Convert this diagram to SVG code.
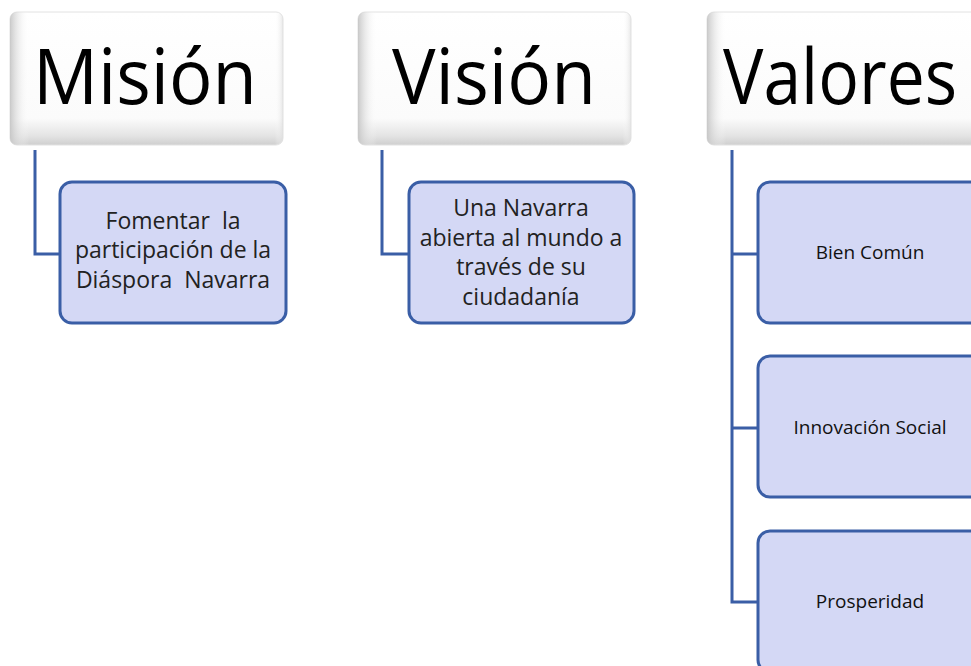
<svg xmlns="http://www.w3.org/2000/svg" width="971" height="666" viewBox="0 0 971 666">
<defs>
<linearGradient id="hv" x1="0" y1="0" x2="0" y2="1">
<stop offset="0" stop-color="#ffffff"/>
<stop offset="0.8" stop-color="#fbfbfb"/>
<stop offset="0.93" stop-color="#e4e4e4"/>
<stop offset="1" stop-color="#cfcfcf"/>
</linearGradient>
<linearGradient id="hh" x1="0" y1="0" x2="1" y2="0">
<stop offset="0" stop-color="#c4c4c4" stop-opacity="0.9"/>
<stop offset="0.07" stop-color="#ffffff" stop-opacity="0"/>
<stop offset="0.97" stop-color="#ffffff" stop-opacity="0"/>
<stop offset="1" stop-color="#dddddd" stop-opacity="0.7"/>
</linearGradient>
</defs>
<style>
.hdr{fill:url(#hv);stroke:#e2e2e2;stroke-width:1}
.hdr2{fill:url(#hh);stroke:none}
.ht{font-family:"Open Sans","Noto Sans",sans-serif;font-size:76px;fill:#000;text-anchor:middle}
.box{fill:#d4d8f5;stroke:#3a5ea6;stroke-width:3}
.bt{font-family:"Open Sans","Noto Sans",sans-serif;font-size:23px;fill:#222;text-anchor:middle;white-space:pre}
.st{font-family:"Open Sans","Noto Sans",sans-serif;font-size:19px;font-weight:500;fill:#111;text-anchor:middle}
.con{fill:none;stroke:#3a5ea6;stroke-width:3}
</style>
<g id="connectors">
<path class="con" d="M35 150 V254 H60"/>
<path class="con" d="M382 150 V254 H409"/>
<path class="con" d="M732 150 V602 H758 M732 254 H758 M732 428 H758"/>
</g>
<g id="mision">
<rect class="hdr" x="10" y="12" width="273" height="133" rx="7"/>
<rect class="hdr2" x="10" y="12" width="273" height="133" rx="7"/>
<text class="ht" x="145" y="104" textLength="224" lengthAdjust="spacingAndGlyphs">Misión</text>
</g>
<g id="vision">
<rect class="hdr" x="358" y="12" width="273" height="133" rx="7"/>
<rect class="hdr2" x="358" y="12" width="273" height="133" rx="7"/>
<text class="ht" x="494" y="104" textLength="204" lengthAdjust="spacingAndGlyphs">Visión</text>
</g>
<g id="valores">
<rect class="hdr" x="707" y="12" width="273" height="133" rx="7"/>
<rect class="hdr2" x="707" y="12" width="273" height="133" rx="7"/>
<text class="ht" x="840" y="104" textLength="234" lengthAdjust="spacingAndGlyphs">Valores</text>
</g>
<g id="mision-child">
<rect class="box" x="60" y="182" width="226" height="141" rx="12"/>
<text class="bt" x="173" y="229" xml:space="preserve">Fomentar  la</text>
<text class="bt" x="173" y="258">participación de la</text>
<text class="bt" x="173" y="288" xml:space="preserve">Diáspora  Navarra</text>
</g>
<g id="vision-child">
<rect class="box" x="409" y="182" width="225" height="141" rx="12"/>
<text class="bt" x="521" y="216">Una Navarra</text>
<text class="bt" x="521" y="246">abierta al mundo a</text>
<text class="bt" x="521" y="275">través de su</text>
<text class="bt" x="521" y="305">ciudadanía</text>
</g>
<g id="bien-comun">
<rect class="box" x="758" y="182" width="226" height="141" rx="12"/>
<text class="st" x="870" y="259">Bien Común</text>
</g>
<g id="innovacion-social">
<rect class="box" x="758" y="356" width="226" height="141" rx="12"/>
<text class="st" x="870" y="434">Innovación Social</text>
</g>
<g id="prosperidad">
<rect class="box" x="758" y="531" width="226" height="141" rx="12"/>
<text class="st" x="870" y="608">Prosperidad</text>
</g>
</svg>
